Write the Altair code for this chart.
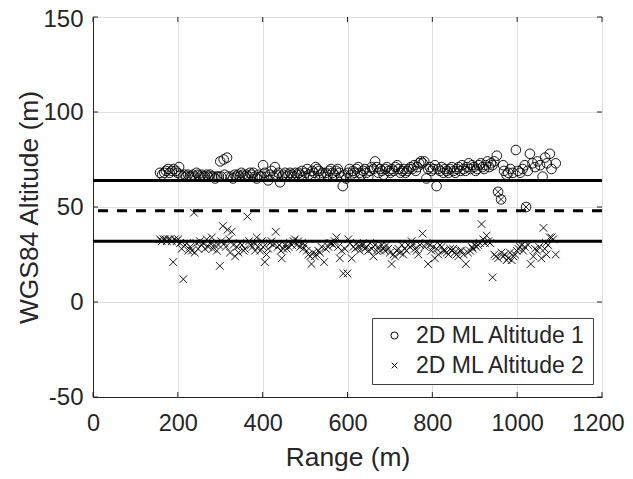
import altair as alt
import pandas as pd

# ---- data ----
alt1_range = [158,163,168,172,177,181,186,190,195,199,203,207,
    212,216,220,224,228,232,236,240,244,248,252,256,260,264,268,272,276,280,284,288,292,296,
    300,308,316,302,310,318,326,330,
    334,338,342,346,350,354,358,362,366,370,374,378,382,386,390,394,398,
    401,405,409,413,417,421,425,429,433,437,441,445,449,453,457,461,465,469,473,477,481,
    485,489,493,497,501,505,509,513,517,521,525,529,533,537,541,545,549,553,557,561,565,569,573,577,581,585,589,593,597,
    601,605,609,613,617,621,625,629,633,637,641,645,649,653,657,661,665,669,673,677,681,685,689,693,697,
    701,705,709,713,717,721,725,729,733,737,741,745,749,753,757,761,765,769,773,777,781,786,790,794,798,
    802,806,810,814,818,822,826,830,
    834,838,842,846,850,854,858,862,866,870,874,878,882,886,890,894,898,902,906,910,914,918,922,926,930,934,938,942,946,
    952,955,962,967,969,975,979,984,990,997,1002,1007,1013,1018,1021,1025,1030,1036,1042,1048,1054,1060,1066,1070,1077,1081,1091]
alt1_alt = [68,67,68,69,70,68,69,70,69,68,71,67,
    66,67,66,67,66,66,67,66,68,67,66,67,66,66,67,66,67,66,66,65,66,66,
    74,75,76,66,67,66,66,65,
    67,66,67,66,68,67,66,67,66,68,67,68,66,65,67,66,66,
    72,68,66,64,67,69,66,71,67,68,63,66,67,68,66,67,68,67,66,68,67,
    68,67,69,66,68,70,67,66,69,68,71,70,69,67,68,66,68,67,69,70,68,67,69,70,68,66,61,67,65,
    68,70,67,69,68,70,71,68,67,69,70,68,66,69,71,70,74,71,68,70,69,67,70,71,69,
    68,70,69,71,72,70,68,69,70,68,69,70,71,70,72,69,71,73,74,73,74,65,70,71,69,
    70,72,61,70,69,71,68,70,
    69,68,70,71,69,68,70,71,69,72,70,69,71,73,70,72,71,69,70,72,73,71,70,72,74,71,73,72,74,
    77,58,54,72,69,67,68,70,68,80,69,68,70,72,50,69,78,73,71,74,72,66,76,73,78,70,73]

alt2_range = [158,162,166,170,174,178,182,186,189,193,197,201,205,209,213,217,221,225,229,233,238,240,244,248,252,256,260,264,268,272,276,280,282,286,292,296,299,
    302,306,310,313,317,321,323,327,331,335,339,343,347,351,355,358,364,368,372,376,380,382,386,390,394,398,
    401,405,409,413,417,421,425,431,435,439,443,445,449,453,457,461,465,469,473,476,480,484,488,492,496,500,
    504,508,512,515,519,523,527,531,535,539,545,549,555,558,562,566,570,574,578,582,586,590,594,600,
    602,606,610,614,618,622,626,629,633,637,641,645,649,653,657,661,665,669,673,677,681,685,688,692,696,700,
    704,708,712,716,720,724,728,731,735,739,743,747,751,755,759,763,767,771,777,782,786,790,794,798,
    802,806,810,814,818,822,826,830,834,838,842,846,849,853,857,861,865,869,874,879,884,889,893,896,900,
    904,908,912,916,920,924,928,932,936,942,946,950,955,955,962,963,967,971,975,979,983,987,991,995,999,
    1003,1007,1010,1014,1018,1021,1026,1032,1038,1042,1047,1052,1057,1062,1065,1068,1069,1073,1077,1081,1085,1091]
alt2_alt = [33,32,33,33,32,33,33,32,21,33,32,33,31,28,12,30,31,27,29,27,47,26,31,28,32,30,31,28,33,29,31,34,28,30,27,30,19,
    32,40,31,29,38,33,26,37,30,24,29,26,31,30,27,28,45,32,30,29,31,27,34,29,27,32,
    29,21,25,28,31,32,30,37,29,30,27,23,28,30,28,29,31,30,32,33,30,32,29,31,28,30,
    27,25,24,20,26,24,25,27,26,29,21,28,29,31,31,30,32,34,29,23,27,15,28,15,
    33,31,23,29,28,31,29,27,30,30,28,29,27,31,28,24,30,27,29,27,30,28,27,30,28,26,
    20,25,24,27,28,26,30,25,28,27,30,29,32,30,28,27,25,30,36,29,31,20,30,27,
    29,23,28,25,30,29,27,27,26,25,28,27,28,26,25,24,27,27,25,20,26,27,29,28,30,
    29,30,31,41,33,31,35,32,31,13,25,24,58,23,54,26,24,25,22,23,26,22,24,25,27,
    28,29,30,27,29,50,30,20,24,28,27,29,23,39,28,31,25,30,34,34,33,25]

series_names = ["2D ML Altitude 1", "2D ML Altitude 2"]
ref_levels = [64, 48, 32]
ref_dash = ["solid", "dashed", "solid"]
x_ticks = [0, 200, 400, 600, 800, 1000, 1200]
y_ticks = [-50, 0, 50, 100, 150]

pts = pd.concat([
    pd.DataFrame({"x": alt1_range, "y": alt1_alt, "series": series_names[0]}),
    pd.DataFrame({"x": alt2_range, "y": alt2_alt, "series": series_names[1]}),
])
refs = pd.DataFrame({"y": ref_levels, "style": ref_dash})
xt = pd.DataFrame({"x": x_ticks})
yt = pd.DataFrame({"y": y_ticks})

W, H = 509, 380
TXT = "#262626"
FONT = "Liberation Sans"

X = alt.X("x:Q", scale=alt.Scale(domain=[0, 1200], nice=False, zero=False),
          axis=alt.Axis(values=x_ticks, title="Range (m)", ticks=False, labelPadding=14,
                        labelExpr="'' + datum.value", labelFlush=False, labelOverlap=False,
                        labelFontSize=23.5,
                        labelOffset={"condition": {"test": "datum.value == 1200", "value": -4}, "value": 0},
                        titleY=68, titleBaseline="alphabetic", grid=True))
Y = alt.Y("y:Q", scale=alt.Scale(domain=[-50, 150], nice=False, zero=False),
          axis=alt.Axis(values=y_ticks, title="WGS84 Altitude (m)", ticks=False, labelPadding=10,
                        labelExpr="'' + datum.value", labelFlush=False, labelOverlap=False,
                        labelOffset={"condition": {"test": "datum.value == 150", "value": 2}, "value": 0},
                        titleX=-56, titleY=190, titleBaseline="alphabetic", titleAngle=-90,
                        titleAlign="center", grid=True))

xshape = "M-0.8,-0.8L0.8,0.8M-0.8,0.8L0.8,-0.8"

points = alt.Chart(pts).mark_point(filled=False, stroke="black", strokeWidth=0.9, opacity=1, size=92).encode(
    x=X, y=Y,
    shape=alt.Shape("series:N",
        scale=alt.Scale(domain=series_names, range=["circle", xshape]),
        legend=alt.Legend(title=None, orient="none", legendX=279, legendY=301,
                          padding=6, symbolOffset=5, labelOffset=10, labelLimit=0,
                          symbolSize=50, symbolStrokeColor="black", symbolFillColor="transparent",
                          symbolStrokeWidth=1, labelFontSize=23, labelFont=FONT, labelColor=TXT,
                          rowPadding=6, strokeColor="#404040", fillColor="white")),
)

solid = alt.Chart(refs[refs["style"] == "solid"]).mark_rule(color="black", strokeWidth=3).encode(y=Y)
dashed = alt.Chart(refs[refs["style"] == "dashed"]).mark_rule(color="black", strokeWidth=3,
                                                              strokeDash=[10, 9]).encode(y=Y)

tb = alt.Chart(xt).mark_rule(color=TXT, strokeWidth=1).encode(x=X, y=alt.value(H), y2=alt.value(H - 5))
tt = alt.Chart(xt).mark_rule(color=TXT, strokeWidth=1).encode(x=X, y=alt.value(0), y2=alt.value(5))
tl = alt.Chart(yt).mark_rule(color=TXT, strokeWidth=1).encode(y=Y, x=alt.value(0), x2=alt.value(5))
tr = alt.Chart(yt).mark_rule(color=TXT, strokeWidth=1).encode(y=Y, x=alt.value(W), x2=alt.value(W - 5))

chart = alt.layer(solid, dashed, points, tb, tt, tl, tr).properties(
    width=W, height=H,
    autosize=alt.AutoSizeParams(type="none"),
    padding={"left": 85, "top": 9, "right": 23, "bottom": 74},
    background="white",
).configure_view(stroke=TXT, strokeWidth=1).configure_axis(
    labelFont=FONT, titleFont=FONT, labelFontSize=24, titleFontSize=26.4,
    labelColor=TXT, titleColor=TXT, titleFontWeight="normal",
    domainColor=TXT, domainWidth=1, gridColor="#dfdfdf", gridWidth=1,
)

chart.save("out.html", embed_options={"renderer": "svg", "actions": False})
